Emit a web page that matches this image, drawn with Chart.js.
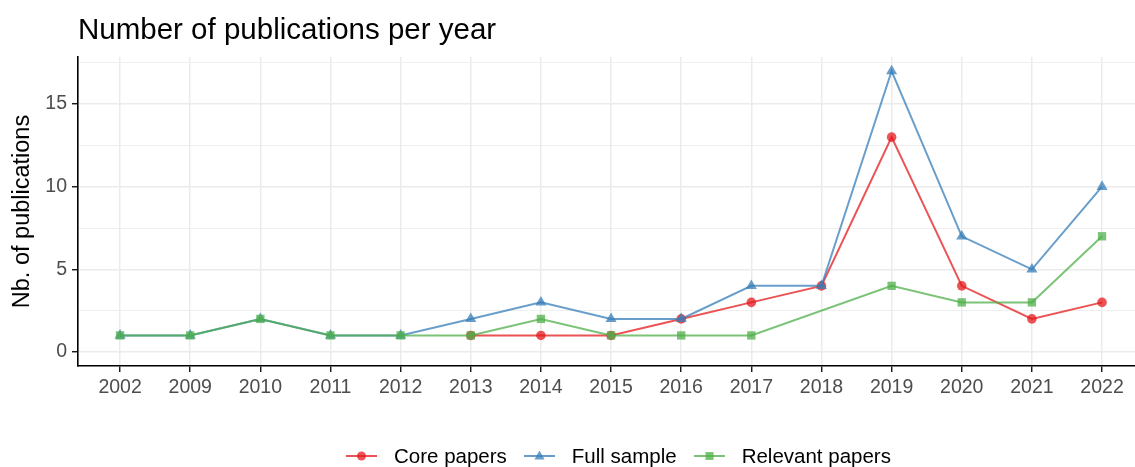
<!DOCTYPE html>
<html>
<head>
<meta charset="utf-8">
<script src="https://cdn.jsdelivr.net/npm/chart.js@4"></script>
<style>
  html, body { margin: 0; padding: 0; background: #fff; overflow: hidden; }
  #wrap { position: relative; width: 1135px; height: 467px; font-family: "Liberation Sans", Arial, sans-serif; }
  #title { position: absolute; left: 78px; top: 12px; font-size: 29.5px; color: #000; white-space: nowrap; }
  #legend { position: absolute; top: 444px; left: 346px; display: flex; align-items: center; font-size: 20.5px; color: #000; white-space: nowrap; }
  #legend .item { display: flex; align-items: center; margin-right: 17px; }
  #legend svg { margin-right: 17px; }
</style>
</head>
<body>
<div id="wrap">
  <canvas id="chart" width="1135" height="467"></canvas>
  <div id="title">Number of publications per year</div>
  <div id="legend"></div>
</div>
<script>
const years = ["2002","2009","2010","2011","2012","2013","2014","2015","2016","2017","2018","2019","2020","2021","2022"];
const corePapers = [null,null,null,null,null,1,1,1,2,3,4,13,4,2,3];
const fullSample = [1,1,2,1,1,2,3,2,2,4,4,17,7,5,10];
const relevantPapers = [1,1,2,1,1,1,2,1,1,1,null,4,3,3,7];
const yTicks = [0,5,10,15];
const yGrid = [0,2.5,5,7.5,10,12.5,15,17.5];

const red = "rgba(228,26,28,0.75)";
const blue = "rgba(55,126,184,0.75)";
const green = "rgba(77,175,74,0.75)";

const toPoints = (arr) => arr.map((v, i) => ({ x: i, y: v })).filter(p => p.y !== null);

const series = [
  { label: "Core papers", data: corePapers, color: red, style: "circle", radius: 4.8, order: 3 },
  { label: "Full sample", data: fullSample, color: blue, style: "triangle", radius: 6.4, order: 2 },
  { label: "Relevant papers", data: relevantPapers, color: green, style: "rect", radius: 5.9, order: 1 },
];

const chart = document.getElementById("chart");

new Chart(chart, {
  type: "line",
  data: {
    datasets: series.map(s => ({
      label: s.label,
      data: toPoints(s.data),
      borderColor: s.color,
      backgroundColor: s.color,
      pointBackgroundColor: s.color,
      pointBorderColor: "rgba(0,0,0,0)",
      pointBorderWidth: 0,
      pointStyle: s.style,
      pointRadius: s.radius,
      borderWidth: 2,
      order: s.order,
      clip: false,
    })),
  },
  options: {
    responsive: false,
    animation: false,
    layout: { autoPadding: false, padding: { top: 57, right: 0, bottom: 58, left: 0 } },
    plugins: {
      legend: { display: false },
      tooltip: { enabled: false },
    },
    scales: {
      x: {
        type: "linear",
        min: -0.6,
        max: 14.47,
        afterBuildTicks: (scale) => { scale.ticks = years.map((y, i) => ({ value: i })); },
        afterFit: (scale) => { scale.height = 43; scale.paddingRight = 0; scale.paddingLeft = 0; },
        ticks: {
          callback: (v) => years[v],
          color: "#4d4d4d",
          font: { family: "Liberation Sans", size: 19.5 },
          padding: 4,
          maxRotation: 0,
          autoSkip: false,
        },
        grid: { color: "#ebebeb", lineWidth: 1.5, tickColor: "#000", tickLength: 6, tickWidth: 1.3 },
        border: { color: "#000", width: 1.6 },
      },
      y: {
        type: "linear",
        min: -0.85,
        max: 17.85,
        afterBuildTicks: (scale) => { scale.ticks = yGrid.map(v => ({ value: v })); },
        afterFit: (scale) => { scale.width = 78; scale.paddingTop = 0; scale.paddingBottom = 0; },
        ticks: {
          callback: (v) => (yTicks.includes(v) ? String(v) : ""),
          color: "#4d4d4d",
          font: { family: "Liberation Sans", size: 19.5 },
          padding: 5,
        },
        grid: {
          color: "#ebebeb",
          lineWidth: (ctx) => (yTicks.includes(ctx.tick && ctx.tick.value) ? 1.5 : 0.8),
          tickColor: (ctx) => (yTicks.includes(ctx.tick && ctx.tick.value) ? "#000" : "rgba(0,0,0,0)"),
          tickLength: 6,
          tickWidth: 1.3,
        },
        border: { color: "#000", width: 1.6 },
        title: {
          display: true,
          text: "Nb. of publications",
          color: "#000",
          font: { family: "Liberation Sans", size: 23.5 },
          padding: { top: 8, bottom: 0 },
        },
      },
    },
  },
});

// legend below the plot, line + marker like the original
const legend = document.getElementById("legend");
series.forEach(s => {
  let marker;
  if (s.style === "circle") marker = `<circle cx="15.5" cy="9" r="4.5" fill="${s.color}"/>`;
  else if (s.style === "triangle") marker = `<polygon points="15.5,3.5 20.5,12.5 10.5,12.5" fill="${s.color}"/>`;
  else marker = `<rect x="11.5" y="5" width="8" height="8" fill="${s.color}"/>`;
  legend.innerHTML += `
    <div class="item">
      <svg width="31" height="18"><line x1="0" y1="9" x2="31" y2="9" stroke="${s.color}" stroke-width="2"/>${marker}</svg>
      <span>${s.label}</span>
    </div>`;
});
</script>
</body>
</html>
